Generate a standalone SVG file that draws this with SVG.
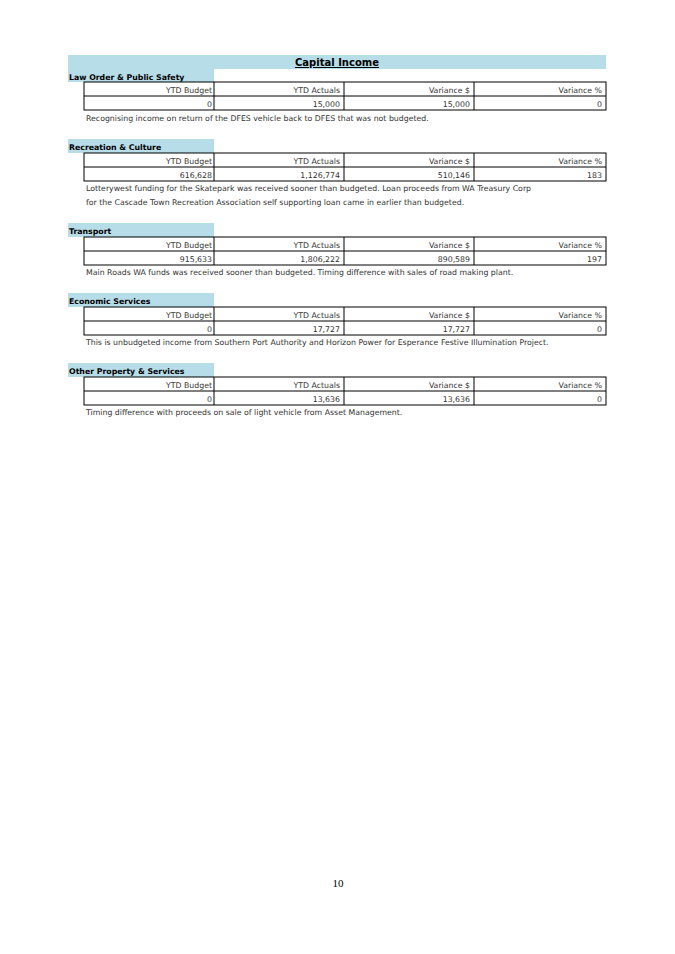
<svg xmlns="http://www.w3.org/2000/svg" width="675" height="954" viewBox="0 0 675 954">
<style>
.band{fill:#b7dde8}
.t{font-family:"DejaVu Sans",Verdana,sans-serif;font-size:7.8px;fill:#333}
.h{font-family:"DejaVu Sans",sans-serif;font-size:7.8px;font-weight:bold;fill:#000}
.r{text-anchor:end}
.g rect,.g line{fill:none;stroke:#000;stroke-width:1}
</style>
<rect width="675" height="954" fill="#fff"/>
<rect class="band" x="68" y="55" width="538" height="14"/>
<text x="337" y="66" text-anchor="middle" font-family="DejaVu Sans,sans-serif" font-size="10" font-weight="bold" text-decoration="underline">Capital Income</text>
<defs>
<g id="tbl" class="g">
<rect x="84" y="0" width="522" height="28"/>
<line x1="84" y1="14" x2="606" y2="14"/>
<line x1="214" y1="0" x2="214" y2="28"/>
<line x1="344" y1="0" x2="344" y2="28"/>
<line x1="474" y1="0" x2="474" y2="28"/>
<text class="t r" x="212" y="11" stroke="none" fill="#333">YTD Budget</text>
<text class="t r" x="340" y="11" stroke="none" fill="#333">YTD Actuals</text>
<text class="t r" x="470" y="11" stroke="none" fill="#333">Variance $</text>
<text class="t r" x="602" y="11" stroke="none" fill="#333">Variance %</text>
</g>
</defs>
<g id="law">
<rect class="band" x="68" y="69" width="146" height="13"/>
<text class="h" x="69" y="80">Law Order &amp; Public Safety</text>
<use href="#tbl" y="82"/>
<text class="t r" x="212" y="107">0</text><text class="t r" x="340" y="107">15,000</text><text class="t r" x="470" y="107">15,000</text><text class="t r" x="602" y="107">0</text>
<text class="t" x="86" y="121">Recognising income on return of the DFES vehicle back to DFES that was not budgeted.</text>
</g>
<g id="rec">
<rect class="band" x="68" y="139" width="146" height="14"/>
<text class="h" x="69" y="150">Recreation &amp; Culture</text>
<use href="#tbl" y="153"/>
<text class="t r" x="212" y="178">616,628</text><text class="t r" x="340" y="178">1,126,774</text><text class="t r" x="470" y="178">510,146</text><text class="t r" x="602" y="178">183</text>
<text class="t" x="86" y="191">Lotterywest funding for the Skatepark was received sooner than budgeted.  Loan proceeds from WA Treasury Corp</text>
<text class="t" x="86" y="205">for the Cascade Town Recreation Association self supporting loan came in earlier than budgeted.</text>
</g>
<g id="transport">
<rect class="band" x="68" y="223" width="146" height="14"/>
<text class="h" x="69" y="234">Transport</text>
<use href="#tbl" y="237"/>
<text class="t r" x="212" y="262">915,633</text><text class="t r" x="340" y="262">1,806,222</text><text class="t r" x="470" y="262">890,589</text><text class="t r" x="602" y="262">197</text>
<text class="t" x="86" y="275">Main Roads WA funds was received sooner than budgeted. Timing difference with sales of road making plant.</text>
</g>
<g id="econ">
<rect class="band" x="68" y="293" width="146" height="14"/>
<text class="h" x="69" y="304">Economic Services</text>
<use href="#tbl" y="307"/>
<text class="t r" x="212" y="332">0</text><text class="t r" x="340" y="332">17,727</text><text class="t r" x="470" y="332">17,727</text><text class="t r" x="602" y="332">0</text>
<text class="t" x="86" y="345">This is unbudgeted income from Southern Port Authority and Horizon Power for Esperance Festive Illumination Project.</text>
</g>
<g id="other">
<rect class="band" x="68" y="363" width="146" height="14"/>
<text class="h" x="69" y="374">Other Property &amp; Services</text>
<use href="#tbl" y="377"/>
<text class="t r" x="212" y="402">0</text><text class="t r" x="340" y="402">13,636</text><text class="t r" x="470" y="402">13,636</text><text class="t r" x="602" y="402">0</text>
<text class="t" x="86" y="415">Timing difference with proceeds on sale of light vehicle from Asset Management.</text>
</g>
<text x="338" y="887" text-anchor="middle" font-family="Liberation Serif,serif" font-size="11">10</text>
</svg>
